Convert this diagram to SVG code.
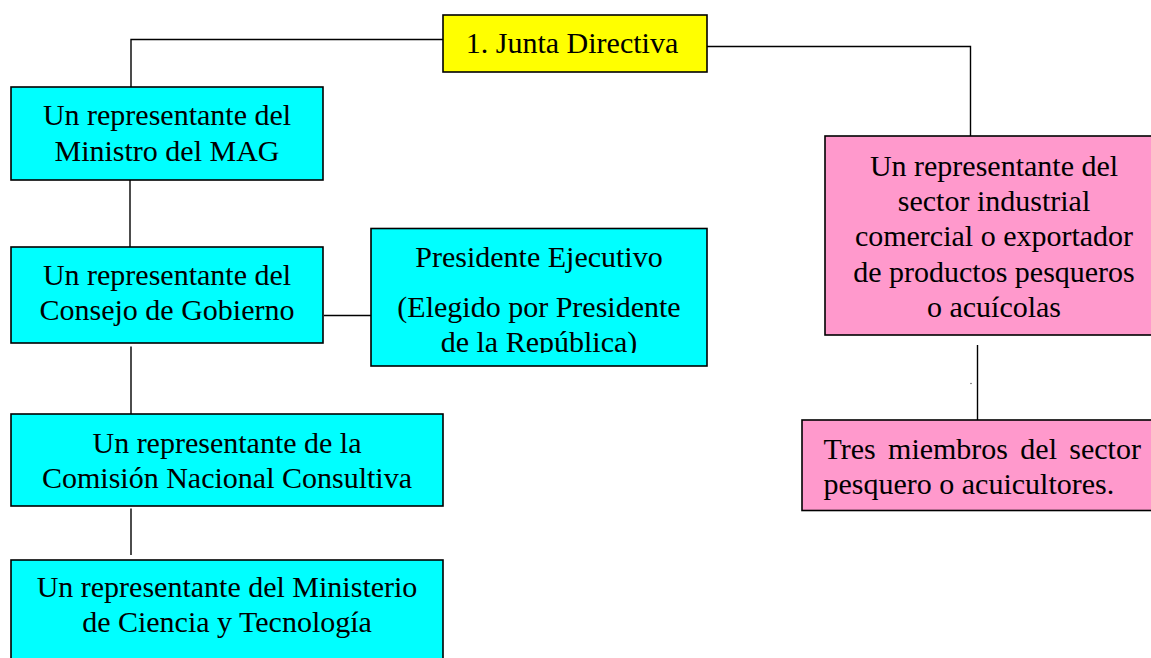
<svg xmlns="http://www.w3.org/2000/svg" width="1151" height="658" viewBox="0 0 1151 658">
  <style>
    .box { stroke: #000; stroke-width: 1.6; }
    .cyan { fill: #00FFFF; }
    .yellow { fill: #FFFF00; }
    .pink { fill: #FF99CC; }
    .conn { fill: none; stroke: #000; stroke-width: 1.4; }
    text { font-family: "Liberation Serif", "Times New Roman", serif; font-size: 30px; fill: #000; }
    .c { text-anchor: middle; }
  </style>
  <defs>
    <clipPath id="presClip">
      <rect x="371" y="229" width="336" height="124"/>
    </clipPath>
  </defs>
  <rect x="0" y="0" width="1151" height="658" fill="#fff"/>

  <g id="connectors">
    <polyline class="conn" points="443,39.5 131,39.5 131,87"/>
    <polyline class="conn" points="707,46.5 970.5,46.5 970.5,136"/>
    <line class="conn" x1="130" y1="180" x2="130" y2="247"/>
    <line class="conn" x1="324" y1="315.5" x2="371" y2="315.5"/>
    <line class="conn" x1="131" y1="346.5" x2="131" y2="414"/>
    <line class="conn" x1="131" y1="508.5" x2="131" y2="555"/>
    <line class="conn" x1="977.5" y1="345" x2="977.5" y2="420"/>
  </g>
  <circle cx="971" cy="383.5" r="0.7" fill="#444"/>

  <g id="junta">
    <rect class="box yellow" x="443" y="15" width="264" height="57"/>
    <text class="c" x="572" y="53">1. Junta Directiva</text>
  </g>

  <g id="mag">
    <rect class="box cyan" x="11" y="87" width="312" height="93"/>
    <text class="c" x="167" y="125">Un representante del</text>
    <text class="c" x="167" y="161">Ministro del MAG</text>
  </g>

  <g id="consejo">
    <rect class="box cyan" x="11" y="247" width="312" height="96"/>
    <text class="c" x="167" y="285">Un representante del</text>
    <text class="c" x="167" y="320">Consejo de Gobierno</text>
  </g>

  <g id="presidente">
    <rect class="box cyan" x="371" y="228.5" width="336" height="137.5"/>
    <g clip-path="url(#presClip)">
      <text class="c" x="539" y="266.5">Presidente Ejecutivo</text>
      <text class="c" x="539" y="316.5">(Elegido por Presidente</text>
      <text class="c" x="539" y="352">de la República)</text>
    </g>
  </g>

  <g id="comision">
    <rect class="box cyan" x="11" y="414" width="432" height="92"/>
    <text class="c" x="227" y="452.5">Un representante de la</text>
    <text class="c" x="227" y="488">Comisión Nacional Consultiva</text>
  </g>

  <g id="ciencia">
    <rect class="box cyan" x="11" y="560" width="432" height="110"/>
    <text class="c" x="227" y="596.5">Un representante del Ministerio</text>
    <text class="c" x="227" y="631.5">de Ciencia y Tecnología</text>
  </g>

  <g id="industrial">
    <rect class="box pink" x="825" y="136" width="338" height="199"/>
    <text class="c" x="994" y="175.5">Un representante del</text>
    <text class="c" x="994" y="211">sector industrial</text>
    <text class="c" x="994" y="246">comercial o exportador</text>
    <text class="c" x="994" y="281.5">de productos pesqueros</text>
    <text class="c" x="994" y="316.5">o acuícolas</text>
  </g>

  <g id="tres">
    <rect class="box pink" x="802" y="420" width="360" height="90.5"/>
    <text x="823.5" y="459" word-spacing="4.8">Tres miembros del sector</text>
    <text x="823.5" y="493.5">pesquero o acuicultores.</text>
  </g>
</svg>
